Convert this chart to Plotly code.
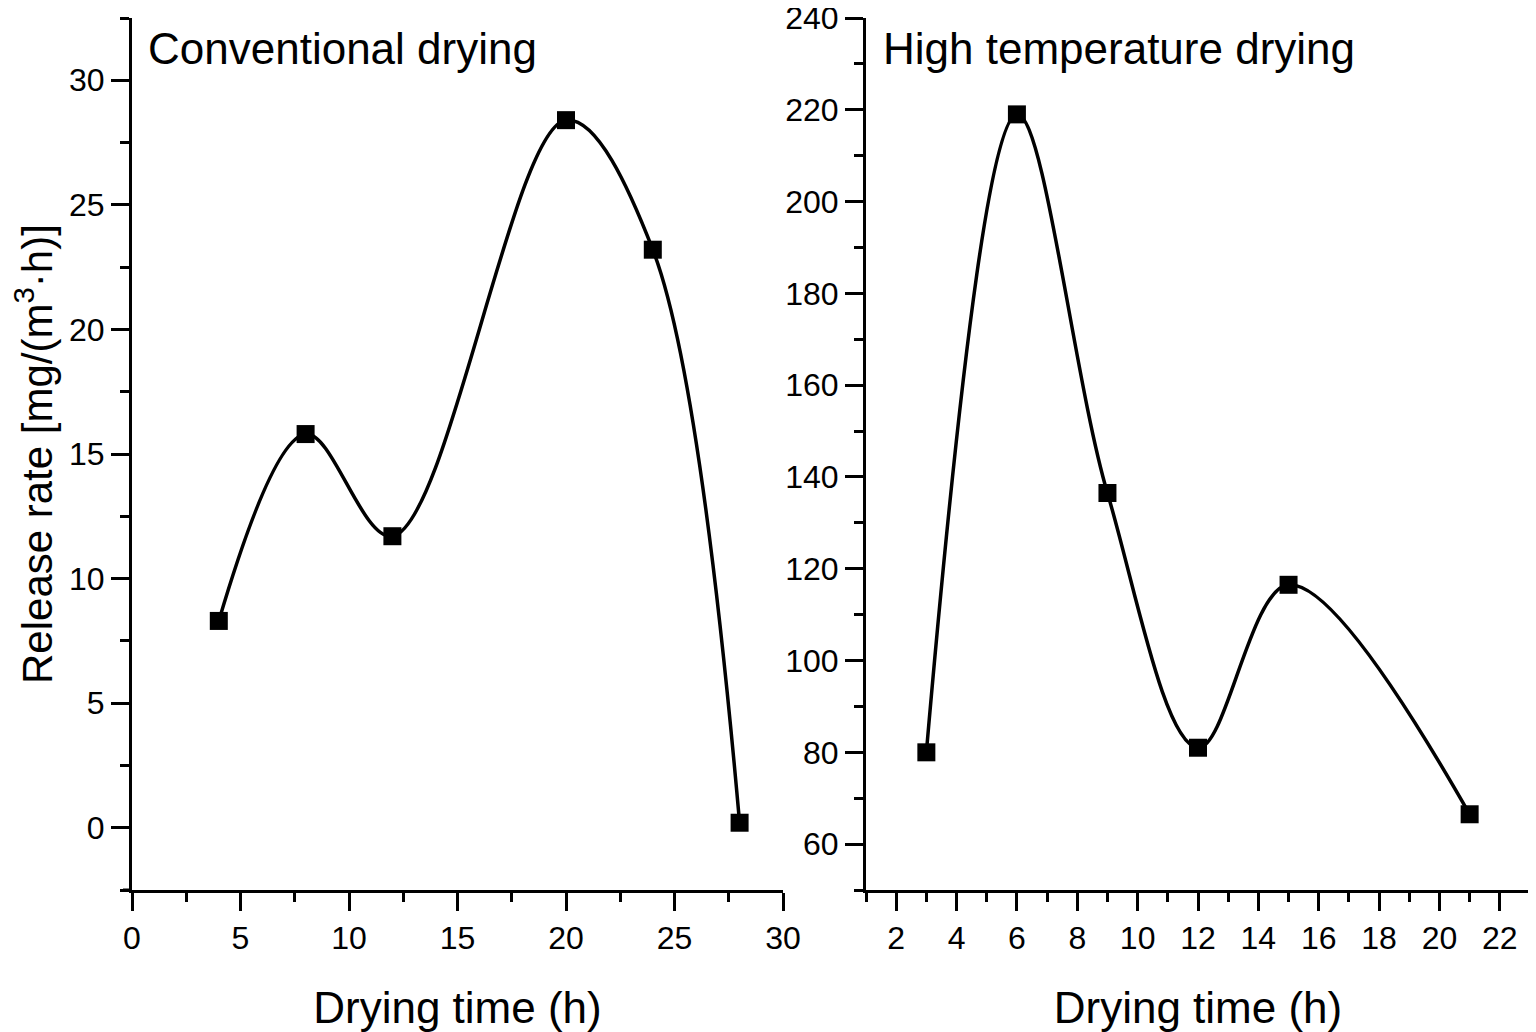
import plotly.graph_objects as go

# Data
conv_time = [4, 8, 12, 20, 24, 28]
conv_rate = [8.3, 15.8, 11.7, 28.4, 23.2, 0.2]
high_time = [3, 6, 9, 12, 15, 21]
high_rate = [80, 219, 136.5, 81, 116.5, 66.5]

panel_titles = ["Conventional drying", "High temperature drying"]
x_title = "Drying time (h)"
y_title = "Release rate [mg/(m<sup>3</sup>·h)]"

FONT = "Liberation Sans, Arial, sans-serif"

fig = go.Figure()

line_style = dict(color="black", width=3.5, shape="spline", smoothing=1.0)
marker_style = dict(symbol="square", size=18, color="black")

fig.add_trace(go.Scatter(x=conv_time, y=conv_rate, mode="lines+markers",
                         line=line_style, marker=marker_style,
                         xaxis="x", yaxis="y", showlegend=False))
fig.add_trace(go.Scatter(x=high_time, y=high_rate, mode="lines+markers",
                         line=line_style, marker=marker_style,
                         xaxis="x2", yaxis="y2", showlegend=False))

# page has an 8px body margin, so the figure is laid out 8px smaller
W, H = 1528, 1024
L, R, T, B = 124, 6, 10, 142
plot_w = W - L - R
d1_end = (775 - L) / plot_w
d2_start = (858 - L) / plot_w

axis_common = dict(showline=True, linewidth=3, linecolor="black",
                   ticks="outside", ticklen=18, tickwidth=3, tickcolor="black",
                   showgrid=False, zeroline=False, mirror=False, automargin=False,
                   ticklabeloverflow="allow",
                   tickfont=dict(family=FONT, size=32, color="black"))

minor_common = dict(ticks="outside", ticklen=9, tickwidth=3, tickcolor="black")

fig.update_layout(
    width=W, height=H,
    margin=dict(l=L, r=R, t=T, b=B),
    paper_bgcolor="white", plot_bgcolor="white",
    font=dict(family=FONT, color="black", size=32),
    xaxis=dict(domain=[0, d1_end], range=[0, 30], dtick=5, tick0=0,
               anchor="y",
               minor=dict(dtick=2.5, tick0=0, **minor_common),
               title=dict(text=x_title, font=dict(family=FONT, size=44), standoff=42),
               **axis_common),
    yaxis=dict(domain=[0, 1], range=[-2.5, 32.5], dtick=5, tick0=0,
               anchor="x",
               minor=dict(dtick=2.5, tick0=0, **minor_common),
               **axis_common),
    xaxis2=dict(domain=[d2_start, 1], range=[1, 23], dtick=2, tick0=0,
                anchor="y2",
                minor=dict(dtick=1, tick0=1, **minor_common),
                title=dict(text=x_title, font=dict(family=FONT, size=44), standoff=42),
                **axis_common),
    yaxis2=dict(domain=[0, 1], range=[50, 240], dtick=20, tick0=0,
                anchor="x2",
                minor=dict(dtick=10, tick0=0, **minor_common),
                **axis_common),
)

# Y-axis title (placed explicitly so it clears the tick labels)
fig.add_annotation(text=y_title, xref="paper", yref="paper",
                   x=(26 - L) / plot_w, y=0.5, xanchor="center", yanchor="middle",
                   textangle=-90, showarrow=False,
                   font=dict(family=FONT, size=42, color="black"))

# Panel titles
fig.add_annotation(text=panel_titles[0], xref="x domain", yref="y domain",
                   x=0.022, y=0.995, xanchor="left", yanchor="top", showarrow=False,
                   font=dict(family=FONT, size=44, color="black"))
fig.add_annotation(text=panel_titles[1], xref="x2 domain", yref="y2 domain",
                   x=0.022, y=0.995, xanchor="left", yanchor="top", showarrow=False,
                   font=dict(family=FONT, size=44, color="black"))

# Origin-style small extension of the left x axis past the y axis
fig.add_shape(type="line", xref="x domain", yref="y domain",
              x0=-9 / (775 - L), x1=0, y0=0, y1=0,
              line=dict(color="black", width=3))

fig.write_html("out.html")
